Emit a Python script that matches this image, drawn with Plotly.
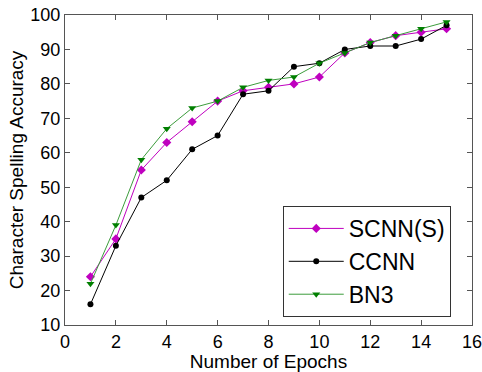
import plotly.graph_objects as go

epochs = list(range(1, 16))
scnn = [24, 35, 55, 63, 69, 75, 78, 79, 80, 82, 89, 92, 94, 95, 96]
ccnn = [16, 33, 47, 52, 61, 65, 77, 78, 85, 86, 90, 91, 91, 93, 97]
bn3 = [22, 39, 58, 67, 73, 75, 79, 81, 82, 86, 89, 92, 94, 96, 98]

x_ticks = [0, 2, 4, 6, 8, 10, 12, 14, 16]
y_ticks = [10, 20, 30, 40, 50, 60, 70, 80, 90, 100]

fig = go.Figure()
fig.add_trace(go.Scatter(x=epochs, y=scnn, name="SCNN(S)", mode="lines+markers",
                         line=dict(color="#BF00BF", width=1),
                         marker=dict(symbol="diamond", size=7, color="#BF00BF")))
fig.add_trace(go.Scatter(x=epochs, y=ccnn, name="CCNN", mode="lines+markers",
                         line=dict(color="black", width=1),
                         marker=dict(symbol="circle", size=6, color="black")))
fig.add_trace(go.Scatter(x=epochs, y=bn3, name="BN3", mode="lines+markers",
                         line=dict(color="#3c9c3c", width=1),
                         marker=dict(symbol="triangle-down", size=7, color="#007F00")))

axis_common = dict(showline=True, linecolor="#555555", linewidth=1, mirror="ticks",
                   ticks="inside", ticklen=5, tickcolor="#555555", showgrid=False,
                   zeroline=False, automargin=False, ticklabeloverflow="allow",
                   tickfont=dict(size=18, color="black"))

fig.update_xaxes(range=[0, 16], tickvals=x_ticks,
                 title=dict(text="Number of Epochs", font=dict(size=19, color="black"), standoff=0),
                 **axis_common)
fig.update_yaxes(range=[10, 100], tickvals=y_ticks,
                 title=dict(text="Character Spelling Accuracy", font=dict(size=19, color="black"), standoff=1),
                 **axis_common)

fig.update_layout(
    width=482, height=372,
    margin=dict(l=65, r=10, t=15, b=47),
    paper_bgcolor="white", plot_bgcolor="white",
    font=dict(family="Liberation Sans, Arial, sans-serif", color="black"),
    legend=dict(x=0.535, y=0.384, xanchor="left", yanchor="top",
                bordercolor="#333333", borderwidth=1, bgcolor="white",
                font=dict(size=23), itemwidth=55),
)

fig.write_html("out.html", config={"displayModeBar": False},
               post_script="document.body.style.margin='0';")
